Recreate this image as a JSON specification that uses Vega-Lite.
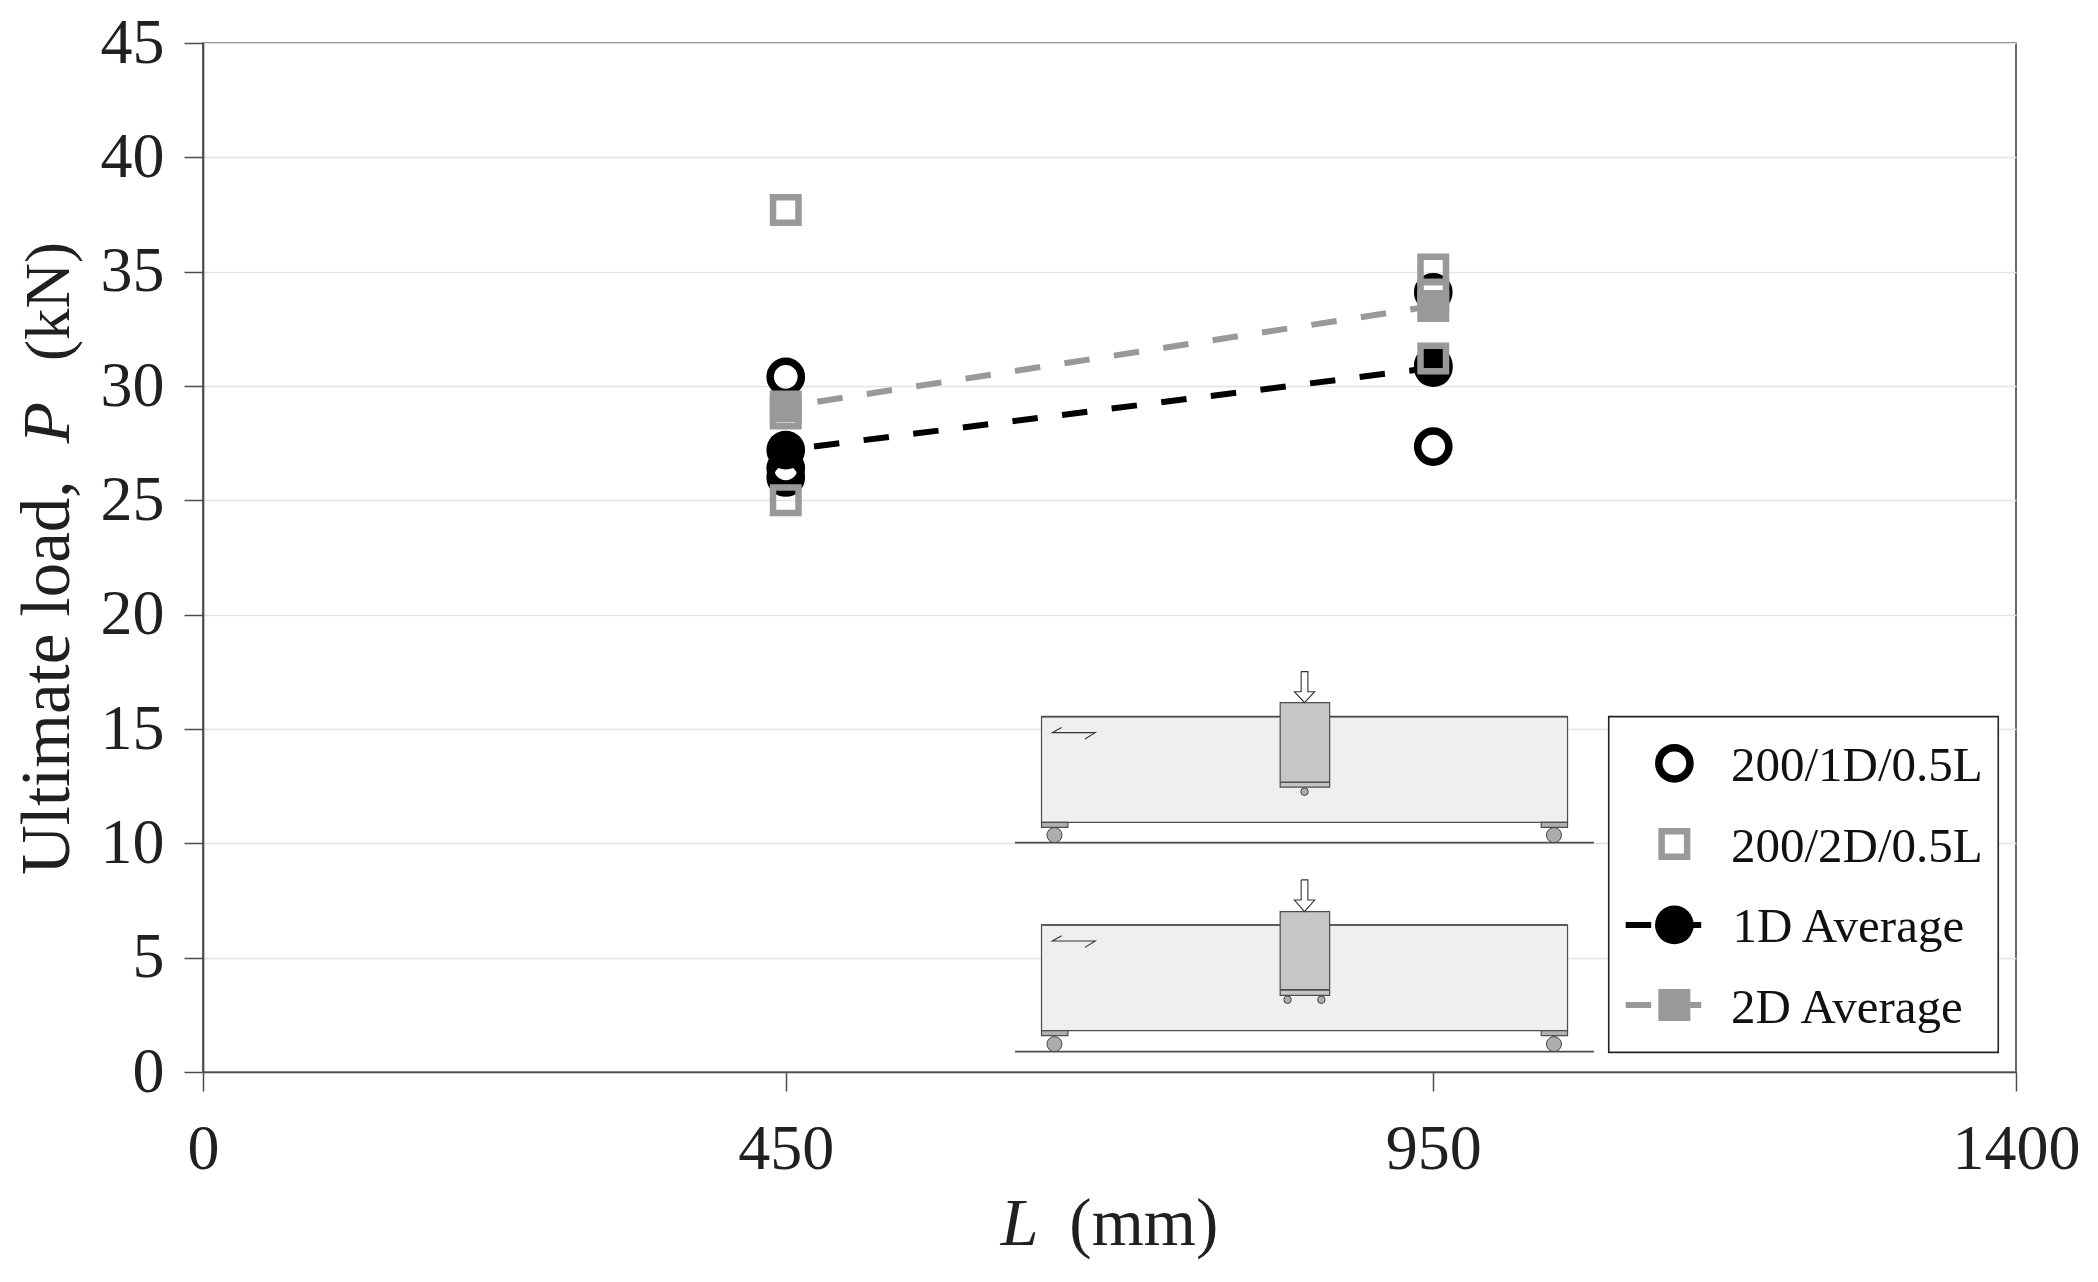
{
  "$schema": "https://vega.github.io/schema/vega-lite/v6.json",
  "width": 1813,
  "height": 1029,
  "autosize": "none",
  "padding": {"left": 203, "top": 43, "right": 82, "bottom": 210},
  "background": "white",
  "view": {"stroke": "#4d4d4d", "strokeWidth": 1.7},
  "config": {"font": "Liberation Serif", "text": {"font": "Liberation Serif", "color": "#231f20"}},
  "datasets": {
    "tests": [
      {"L": 450, "P": 30.4, "series": "200/1D/0.5L"},
      {"L": 450, "P": 26.4, "series": "200/1D/0.5L"},
      {"L": 450, "P": 26.0, "series": "200/1D/0.5L"},
      {"L": 950, "P": 34.1, "series": "200/1D/0.5L"},
      {"L": 950, "P": 30.9, "series": "200/1D/0.5L"},
      {"L": 950, "P": 27.35, "series": "200/1D/0.5L"},
      {"L": 450, "P": 37.7, "series": "200/2D/0.5L"},
      {"L": 450, "P": 28.8, "series": "200/2D/0.5L"},
      {"L": 450, "P": 25.0, "series": "200/2D/0.5L"},
      {"L": 950, "P": 35.1, "series": "200/2D/0.5L"},
      {"L": 950, "P": 34.0, "series": "200/2D/0.5L"},
      {"L": 950, "P": 31.2, "series": "200/2D/0.5L"}
    ],
    "averages": [
      {"L": 450, "P": 27.2, "series": "1D Average"},
      {"L": 950, "P": 30.8, "series": "1D Average"},
      {"L": 450, "P": 29.1, "series": "2D Average"},
      {"L": 950, "P": 33.5, "series": "2D Average"}
    ],
    "legendItems": [
      {"L": 1136.2, "P": 13.5, "series": "200/1D/0.5L"},
      {"L": 1136.2, "P": 9.97, "series": "200/2D/0.5L"},
      {"L": 1136.2, "P": 6.43, "series": "1D Average"},
      {"L": 1136.2, "P": 2.93, "series": "2D Average"}
    ],
    "legendLines": [
      {"L": 1098.6, "P": 6.43, "series": "1D Average"},
      {"L": 1157.1, "P": 6.43, "series": "1D Average"},
      {"L": 1098.6, "P": 2.93, "series": "2D Average"},
      {"L": 1157.1, "P": 2.93, "series": "2D Average"}
    ],
    "legendText": [
      {"L": 1179.9, "P": 12.73, "label": "200/1D/0.5L"},
      {"L": 1179.9, "P": 9.2, "label": "200/2D/0.5L"},
      {"L": 1181, "P": 5.7, "label": "1D Average"},
      {"L": 1179.9, "P": 2.16, "label": "2D Average"}
    ],
    "rects": [
      {"L": 647.5, "L2": 1053.7, "P": 15.54, "P2": 10.92, "part": "beam"},
      {"L": 831.8, "L2": 870, "P": 16.15, "P2": 12.46, "part": "block"},
      {"L": 647.5, "L2": 667.9, "P": 10.92, "P2": 10.7, "part": "plate"},
      {"L": 1033.4, "L2": 1053.7, "P": 10.92, "P2": 10.7, "part": "plate"},
      {"L": 647.5, "L2": 1053.7, "P": 6.43, "P2": 1.81, "part": "beam"},
      {"L": 831.8, "L2": 870, "P": 7.01, "P2": 3.35, "part": "block"},
      {"L": 647.5, "L2": 667.9, "P": 1.81, "P2": 1.59, "part": "plate"},
      {"L": 1033.4, "L2": 1053.7, "P": 1.81, "P2": 1.59, "part": "plate"}
    ],
    "rules": [
      {"L": 627, "L2": 1074.1, "P": 10.03},
      {"L": 627, "L2": 1074.1, "P": 0.89},
      {"L": 647.5, "L2": 831.8, "P": 15.54},
      {"L": 870, "L2": 1053.7, "P": 15.54},
      {"L": 647.5, "L2": 831.8, "P": 6.43},
      {"L": 870, "L2": 1053.7, "P": 6.43},
      {"L": 831.8, "L2": 870, "P": 12.67},
      {"L": 831.8, "L2": 870, "P": 3.59}
    ],
    "rollers": [
      {"L": 657.5, "P": 10.36},
      {"L": 1043.2, "P": 10.36},
      {"L": 657.5, "P": 1.22},
      {"L": 1043.2, "P": 1.22}
    ],
    "pins": [
      {"L": 850.6, "P": 12.26},
      {"L": 837.5, "P": 3.16},
      {"L": 863.6, "P": 3.16}
    ],
    "outlines": [
      {"shape": "a1", "i": 0, "L": 848, "P": 17.51},
      {"shape": "a1", "i": 1, "L": 853.2, "P": 17.51},
      {"shape": "a1", "i": 2, "L": 853.2, "P": 16.63},
      {"shape": "a1", "i": 3, "L": 858.4, "P": 16.63},
      {"shape": "a1", "i": 4, "L": 850.6, "P": 16.15},
      {"shape": "a1", "i": 5, "L": 842.8, "P": 16.63},
      {"shape": "a1", "i": 6, "L": 848, "P": 16.63},
      {"shape": "a1", "i": 7, "L": 848, "P": 17.51},
      {"shape": "a2", "i": 0, "L": 848, "P": 8.4},
      {"shape": "a2", "i": 1, "L": 853.2, "P": 8.4},
      {"shape": "a2", "i": 2, "L": 853.2, "P": 7.52},
      {"shape": "a2", "i": 3, "L": 858.4, "P": 7.52},
      {"shape": "a2", "i": 4, "L": 850.6, "P": 7.01},
      {"shape": "a2", "i": 5, "L": 842.8, "P": 7.52},
      {"shape": "a2", "i": 6, "L": 848, "P": 7.52},
      {"shape": "a2", "i": 7, "L": 848, "P": 8.4},
      {"shape": "d1", "i": 0, "L": 663, "P": 15.07},
      {"shape": "d1", "i": 1, "L": 655.8, "P": 14.84},
      {"shape": "d1", "i": 2, "L": 689, "P": 14.84},
      {"shape": "d1", "i": 3, "L": 681, "P": 14.56},
      {"shape": "d2", "i": 0, "L": 663, "P": 5.96},
      {"shape": "d2", "i": 1, "L": 655.8, "P": 5.73},
      {"shape": "d2", "i": 2, "L": 689, "P": 5.73},
      {"shape": "d2", "i": 3, "L": 681, "P": 5.45}
    ],
    "box": [{"L": 1085.5, "L2": 1386.3, "P": 15.54, "P2": 0.86}]
  },
  "encoding": {
    "x": {
      "field": "L",
      "type": "quantitative",
      "scale": {"domain": [0, 1400], "nice": false},
      "axis": {
        "title": null,
        "values": [0, 450, 950, 1400],
        "format": "d",
        "grid": false,
        "domainColor": "#4d4d4d",
        "domainWidth": 1.7,
        "tickColor": "#4d4d4d",
        "tickWidth": 1.5,
        "tickSize": 19,
        "labelFontSize": 64,
        "labelFont": "Liberation Serif",
        "labelColor": "#231f20",
        "labelPadding": 26,
        "labelFlush": false,
        "labelOverlap": false
      }
    },
    "y": {
      "field": "P",
      "type": "quantitative",
      "scale": {"domain": [0, 45], "nice": false},
      "axis": {
        "title": null,
        "values": [0, 5, 10, 15, 20, 25, 30, 35, 40, 45],
        "grid": true,
        "gridColor": "#e3e3e3",
        "gridWidth": 1.3,
        "domainColor": "#4d4d4d",
        "domainWidth": 1.7,
        "tickColor": "#4d4d4d",
        "tickWidth": 1.5,
        "tickSize": 19,
        "labelFontSize": 64,
        "labelFont": "Liberation Serif",
        "labelColor": "#231f20",
        "labelPadding": 20,
        "labelOverlap": false
      }
    }
  },
  "layer": [
    {
      "data": {"name": "rects"},
      "mark": {"type": "rect", "stroke": "#4d4d4d", "strokeWidth": 1.2},
      "encoding": {
        "x2": {"field": "L2"},
        "y2": {"field": "P2"},
        "fill": {
          "field": "part",
          "type": "nominal",
          "legend": null,
          "scale": {"domain": ["beam", "block", "plate"], "range": ["#efefef", "#c6c6c6", "#b0b0b0"]}
        }
      }
    },
    {
      "data": {"name": "rules"},
      "mark": {"type": "rule", "color": "#4d4d4d", "strokeWidth": 1.6},
      "encoding": {"x2": {"field": "L2"}}
    },
    {
      "data": {"name": "outlines"},
      "mark": {"type": "line", "color": "#333333", "strokeWidth": 1.1},
      "encoding": {"detail": {"field": "shape"}, "order": {"field": "i"}}
    },
    {
      "data": {"name": "rollers"},
      "mark": {"type": "point", "shape": "circle", "filled": true, "fill": "#adadad", "stroke": "#444444", "strokeWidth": 1, "opacity": 1, "size": 225}
    },
    {
      "data": {"name": "pins"},
      "mark": {"type": "point", "shape": "circle", "filled": true, "fill": "#adadad", "stroke": "#444444", "strokeWidth": 1, "opacity": 1, "size": 56}
    },
    {
      "data": {"name": "box"},
      "mark": {"type": "rect", "fill": "white", "stroke": "#222222", "strokeWidth": 1.6},
      "encoding": {"x2": {"field": "L2"}, "y2": {"field": "P2"}}
    },
    {
      "data": {"name": "tests"},
      "transform": [{"filter": "datum.series === '200/1D/0.5L'"}],
      "mark": {"type": "point", "shape": "circle", "filled": false, "stroke": "black", "strokeWidth": 7.5, "opacity": 1, "size": 973}
    },
    {
      "data": {"name": "averages"},
      "transform": [{"filter": "datum.series === '1D Average'"}],
      "mark": {"type": "line", "color": "black", "strokeWidth": 6, "strokeDash": [25.5, 24.5], "strokeDashOffset": 21.5}
    },
    {
      "data": {"name": "averages"},
      "transform": [{"filter": "datum.series === '1D Average'"}],
      "mark": {"type": "point", "shape": "circle", "filled": true, "fill": "black", "opacity": 1, "size": 1498}
    },
    {
      "data": {"name": "tests"},
      "transform": [{"filter": "datum.series === '200/2D/0.5L'"}],
      "mark": {"type": "point", "shape": "square", "filled": false, "stroke": "#999999", "strokeWidth": 6.5, "opacity": 1, "size": 650}
    },
    {
      "data": {"name": "averages"},
      "transform": [{"filter": "datum.series === '2D Average'"}],
      "mark": {"type": "line", "color": "#999999", "strokeWidth": 6, "strokeDash": [25.5, 24.5], "strokeDashOffset": 18}
    },
    {
      "data": {"name": "averages"},
      "transform": [{"filter": "datum.series === '2D Average'"}],
      "mark": {"type": "point", "shape": "square", "filled": true, "fill": "#999999", "opacity": 1, "size": 1024}
    },
    {
      "data": {"name": "legendLines"},
      "mark": {"type": "line", "strokeWidth": 6, "strokeDash": [25.5, 24.5]},
      "encoding": {
        "detail": {"field": "series"},
        "color": {
          "field": "series",
          "type": "nominal",
          "legend": null,
          "scale": {"domain": ["1D Average", "2D Average"], "range": ["black", "#999999"]}
        }
      }
    },
    {
      "data": {"name": "legendItems"},
      "transform": [{"filter": "datum.series === '200/1D/0.5L'"}],
      "mark": {"type": "point", "shape": "circle", "filled": false, "stroke": "black", "strokeWidth": 7.5, "opacity": 1, "size": 973}
    },
    {
      "data": {"name": "legendItems"},
      "transform": [{"filter": "datum.series === '200/2D/0.5L'"}],
      "mark": {"type": "point", "shape": "square", "filled": false, "stroke": "#999999", "strokeWidth": 6.5, "opacity": 1, "size": 650}
    },
    {
      "data": {"name": "legendItems"},
      "transform": [{"filter": "datum.series === '1D Average'"}],
      "mark": {"type": "point", "shape": "circle", "filled": true, "fill": "black", "opacity": 1, "size": 1498}
    },
    {
      "data": {"name": "legendItems"},
      "transform": [{"filter": "datum.series === '2D Average'"}],
      "mark": {"type": "point", "shape": "square", "filled": true, "fill": "#999999", "opacity": 1, "size": 1024}
    },
    {
      "data": {"name": "legendText"},
      "mark": {"type": "text", "fontSize": 49, "align": "left", "baseline": "alphabetic", "color": "#111111"},
      "encoding": {"text": {"field": "label"}}
    },
    {
      "data": {"values": [{"L": 669, "P": -7.55, "label": "(mm)"}]},
      "mark": {"type": "text", "fontSize": 67, "align": "left", "baseline": "alphabetic"},
      "encoding": {"text": {"field": "label"}}
    },
    {
      "data": {"values": [{"L": 616, "P": -7.55, "label": "L"}]},
      "mark": {"type": "text", "fontSize": 68, "fontStyle": "italic", "align": "left", "baseline": "alphabetic"},
      "encoding": {"text": {"field": "label"}}
    },
    {
      "data": {"values": [{"L": -103.4, "P": 8.61, "label": "Ultimate load,"}]},
      "mark": {"type": "text", "fontSize": 69, "angle": 270, "align": "left", "baseline": "alphabetic"},
      "encoding": {"text": {"field": "label"}}
    },
    {
      "data": {"values": [{"L": -103.4, "P": 31.09, "label": "(kN)"}]},
      "mark": {"type": "text", "fontSize": 63, "angle": 270, "align": "left", "baseline": "alphabetic"},
      "encoding": {"text": {"field": "label"}}
    },
    {
      "data": {"values": [{"L": -103.4, "P": 27.49, "label": "P"}]},
      "mark": {"type": "text", "fontSize": 68, "fontStyle": "italic", "angle": 270, "align": "left", "baseline": "alphabetic"},
      "encoding": {"text": {"field": "label"}}
    }
  ]
}
